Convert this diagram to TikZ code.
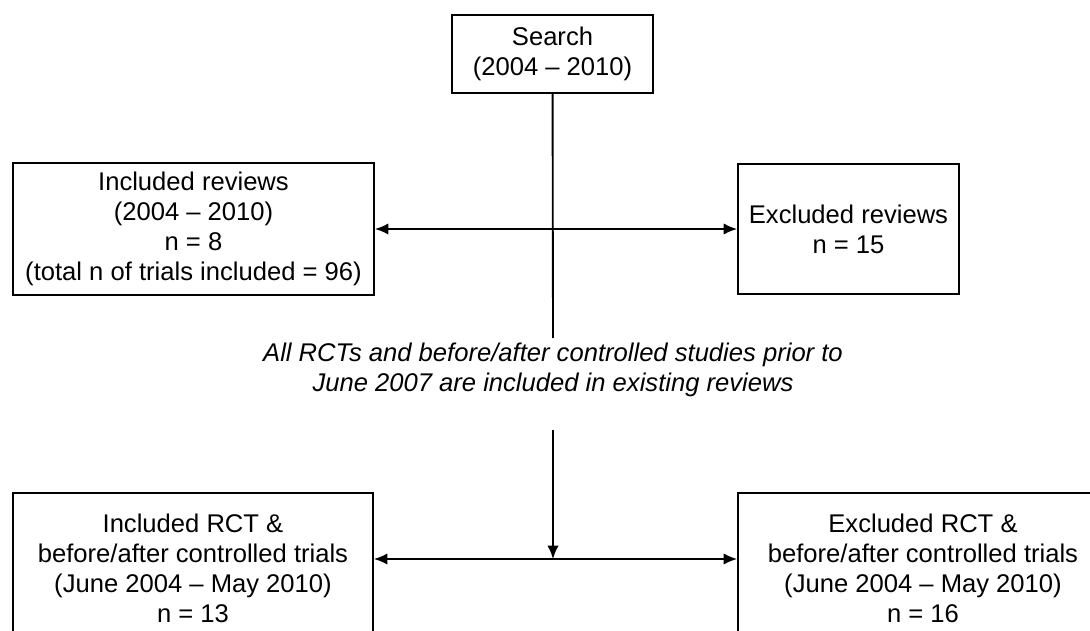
\documentclass[tikz,border=0pt]{standalone}
\usepackage{fontspec}
\setmainfont{Liberation Sans}
\usetikzlibrary{arrows.meta}

\begin{document}
\begin{tikzpicture}[x=0.75pt, y=-0.75pt, align=center,
	font=\fontsize{19.2pt}{22.5pt}\selectfont,
	>={Latex[length=10pt, width=8.5pt]},
	box/.style = {draw, line width=1.4pt, inner sep=0pt},
	link/.style = {line width=1.4pt}]
	\useasboundingbox (0,0) rectangle (1090,631);
	\node[box, minimum width=201*0.75pt, minimum height=78*0.75pt] (1) at (552.5,54) {Search\\(2004 – 2010)};
	\node[box, minimum width=361*0.75pt, minimum height=132*0.75pt] (2) at (193.5,229) {Included reviews\\(2004 – 2010)\\n = 8\\(total n of trials included = 96)};
	\node[box, minimum width=221*0.75pt, minimum height=130*0.75pt] (3) at (848.5,229) {Excluded reviews\\n = 15};
	\node (4) at (553,370) {\itshape All RCTs and before/after controlled studies prior to\\\itshape June 2007 are included in existing reviews};
	\node[box, minimum width=360*0.75pt, minimum height=150*0.75pt] (5) at (193,568) {Included RCT \&\\before/after controlled trials\\(June 2004 – May 2010)\\n = 13};
	\node[box, minimum width=370*0.75pt, minimum height=150*0.75pt] (6) at (923,568) {Excluded RCT \&\\before/after controlled trials\\(June 2004 – May 2010)\\n = 16};
	\coordinate (a) at (553,338);
	\coordinate (b) at (553,430);
	\coordinate (c) at (553,559);
	\draw[link] (1) -- (a);
	\draw[link, <->] (2) -- (3);
	\draw[link, ->] (b) -- (c);
	\draw[link, <->] (5.east |- c) -- (6.west |- c);
\end{tikzpicture}
\end{document}
